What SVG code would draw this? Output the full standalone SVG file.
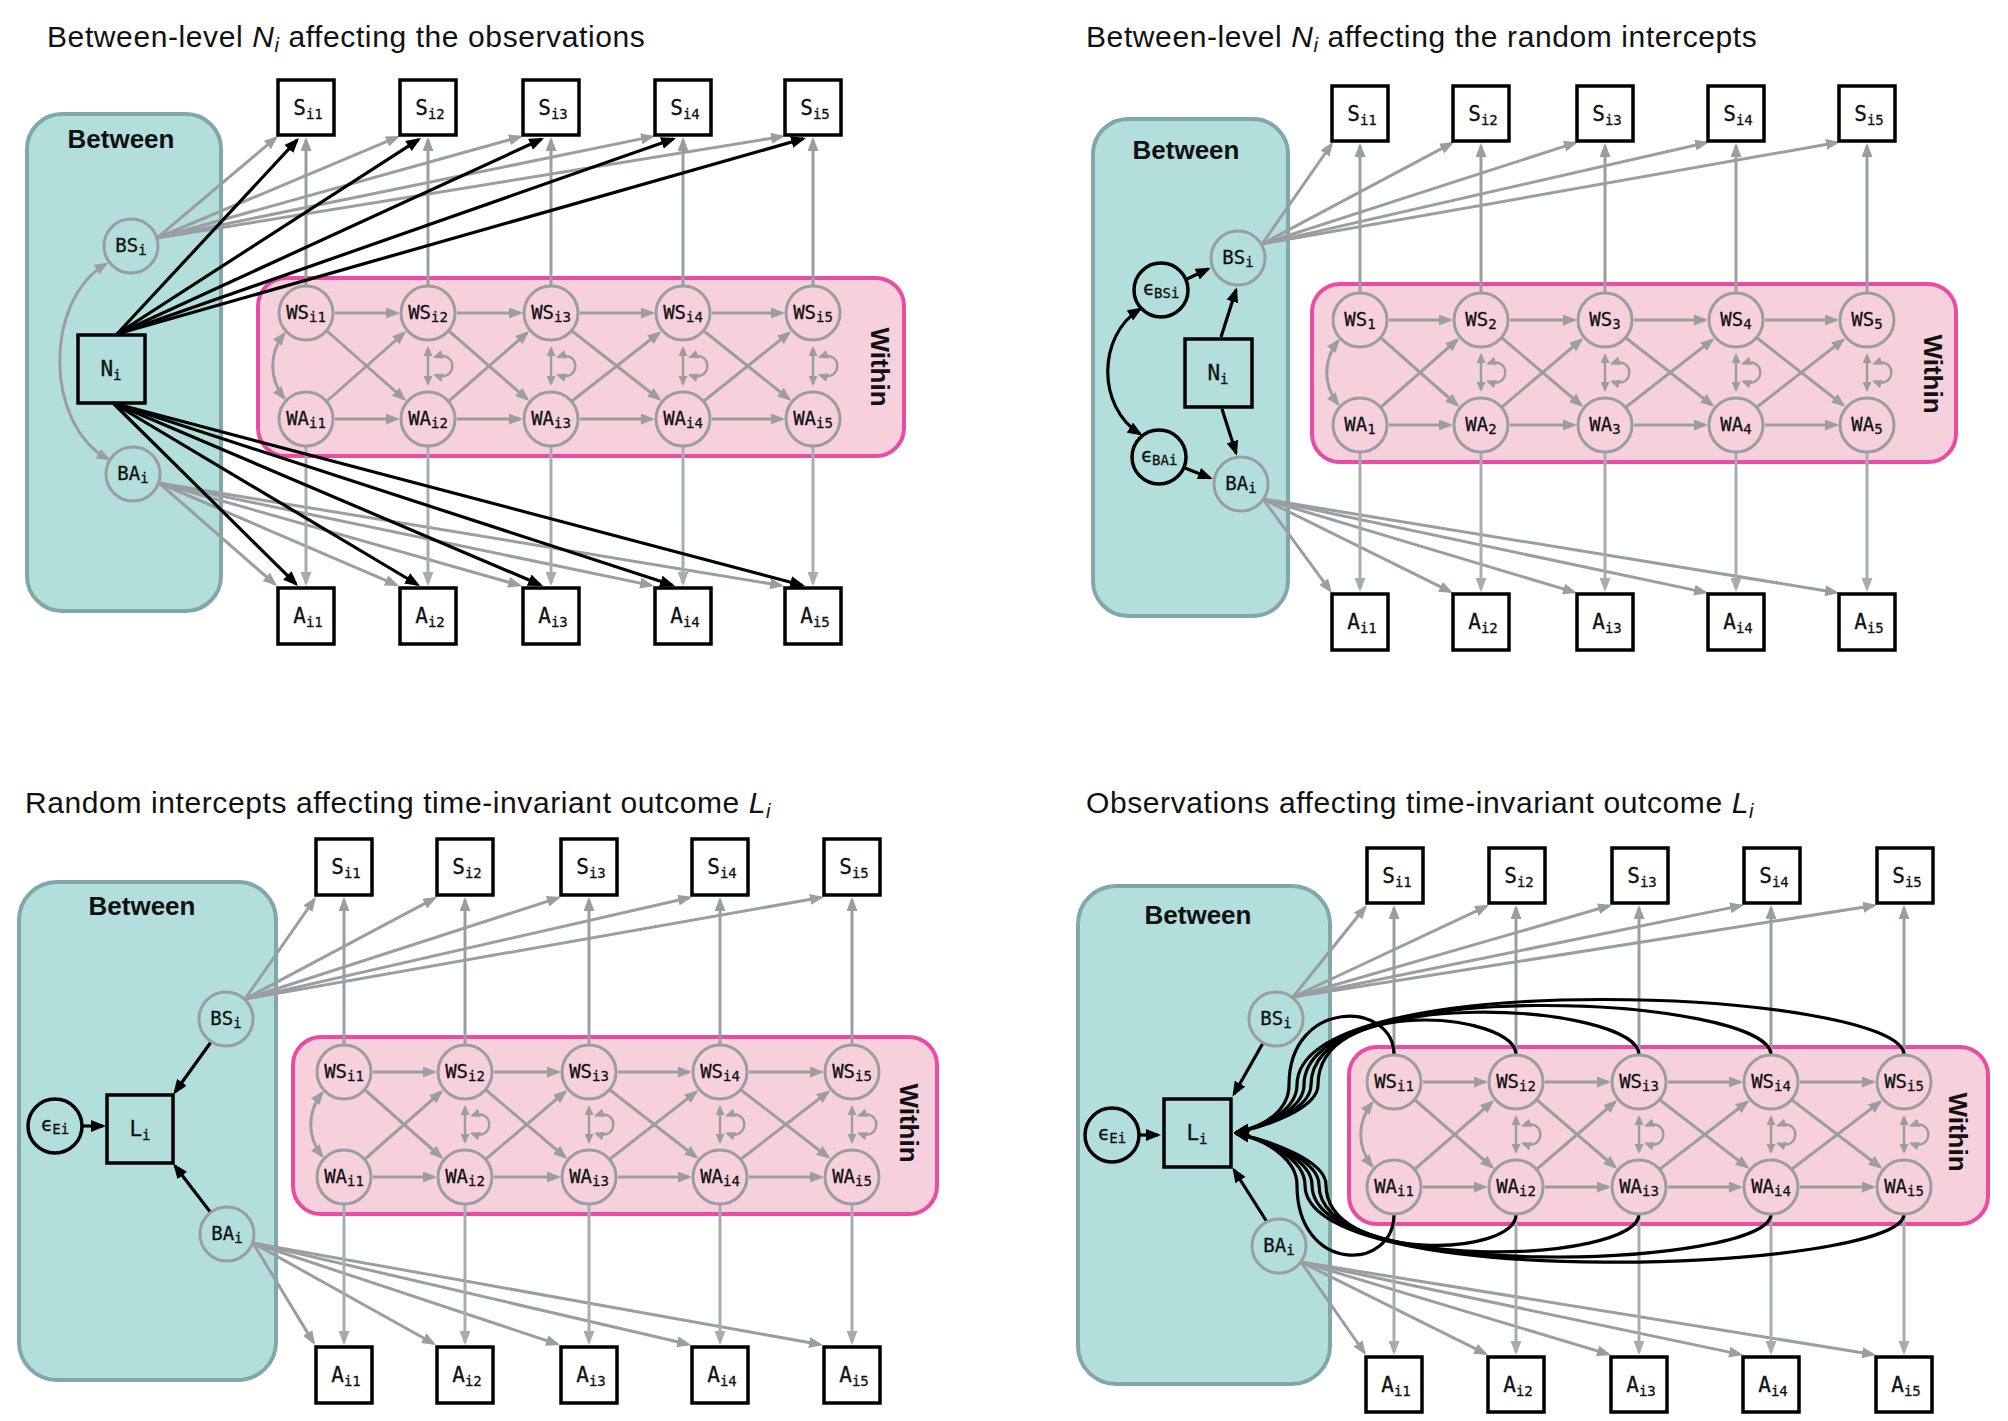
<svg xmlns="http://www.w3.org/2000/svg" width="2008" height="1421" viewBox="0 0 2008 1421">
<defs>
<marker id="ag" viewBox="0 0 14 11" refX="11" refY="5.5" markerWidth="14" markerHeight="11" markerUnits="userSpaceOnUse" orient="auto-start-reverse"><path d="M0,0L14,5.5L0,11z" fill="#9b9ea0"/></marker>
<marker id="agl" viewBox="0 0 14 11" refX="11" refY="5.5" markerWidth="14" markerHeight="11" markerUnits="userSpaceOnUse" orient="auto-start-reverse"><path d="M0,0L14,5.5L0,11z" fill="#a9acae"/></marker>
<marker id="ak" viewBox="0 0 15 12" refX="12" refY="6" markerWidth="15" markerHeight="12" markerUnits="userSpaceOnUse" orient="auto-start-reverse"><path d="M0,0L15,6L0,12z" fill="#000"/></marker>
<marker id="as" viewBox="0 0 10 9" refX="8" refY="4.5" markerWidth="10" markerHeight="9" markerUnits="userSpaceOnUse" orient="auto-start-reverse"><path d="M0,0L10,4.5L0,9z" fill="#9b9ea0"/></marker>
</defs>
<style>
.g{fill:none;stroke:#9b9ea0;stroke-width:3;marker-end:url(#ag)}
.gl{fill:none;stroke:#a9acae;stroke-width:3;marker-end:url(#agl)}
.gd{fill:none;stroke:#9b9ea0;stroke-width:3;marker-start:url(#ag);marker-end:url(#ag)}
.sd{fill:none;stroke:#9b9ea0;stroke-width:2.5;marker-start:url(#as);marker-end:url(#as)}
.k{fill:none;stroke:#000;stroke-width:3.2;marker-end:url(#ak)}
.kd{fill:none;stroke:#000;stroke-width:3.2;marker-start:url(#ak);marker-end:url(#ak)}
.btw{fill:#b2dfdb;stroke:#80a9a6;stroke-width:4}
.wtn{fill:#f6d1dc;stroke:#ea4ba3;stroke-width:4}
.cg{fill:none;stroke:#9b9ea0;stroke-width:3}
.ck{fill:none;stroke:#000;stroke-width:3.5}
.bx{fill:#fff;stroke:#000;stroke-width:3.5}
.bn{fill:none;stroke:#000;stroke-width:3.5}
.t{font-family:"DejaVu Sans Mono",monospace;font-size:19px;fill:#111;text-anchor:middle;stroke:#111;stroke-width:0.3}
.tb{font-family:"DejaVu Sans Mono",monospace;font-size:21px;fill:#111;text-anchor:middle;stroke:#111;stroke-width:0.3}
.s{font-size:14px}
.ttl{font-family:"Liberation Sans",Arial,sans-serif;font-size:30px;letter-spacing:0.6px;fill:#111}
.hd{font-family:"Liberation Sans",Arial,sans-serif;font-size:26px;font-weight:bold;fill:#111;text-anchor:middle}
</style>
<rect width="2008" height="1421" fill="#fff"/>

<!-- Titles -->
<text class="ttl" x="47" y="47">Between-level <tspan font-style="italic">N</tspan><tspan font-style="italic" font-size="20" dy="5">i</tspan><tspan dy="-5"> affecting the observations</tspan></text>
<text class="ttl" x="1086" y="47">Between-level <tspan font-style="italic">N</tspan><tspan font-style="italic" font-size="20" dy="5">i</tspan><tspan dy="-5"> affecting the random intercepts</tspan></text>
<text class="ttl" x="25" y="813">Random intercepts affecting time-invariant outcome <tspan font-style="italic">L</tspan><tspan font-style="italic" font-size="20" dy="5">i</tspan></text>
<text class="ttl" x="1086" y="813">Observations affecting time-invariant outcome <tspan font-style="italic">L</tspan><tspan font-style="italic" font-size="20" dy="5">i</tspan></text>

<!-- Regions -->
<g id="p1-between"><rect class="btw" x="27" y="114" width="194" height="497" rx="35"/><text class="hd" x="121" y="148">Between</text></g>
<g id="p1-within"><rect class="wtn" x="258" y="278" width="646" height="178" rx="28"/><text class="hd" transform="translate(880,367) rotate(90)" dominant-baseline="central">Within</text></g>
<g id="p2-between"><rect class="btw" x="1093" y="119" width="195" height="497" rx="35"/><text class="hd" x="1186" y="159">Between</text></g>
<g id="p2-within"><rect class="wtn" x="1312" y="284" width="644" height="178" rx="28"/><text class="hd" transform="translate(1933,374) rotate(90)" dominant-baseline="central">Within</text></g>
<g id="p3-between"><rect class="btw" x="19" y="882" width="257" height="498" rx="38"/><text class="hd" x="142" y="915">Between</text></g>
<g id="p3-within"><rect class="wtn" x="293" y="1037" width="644" height="177" rx="28"/><text class="hd" transform="translate(909,1123) rotate(90)" dominant-baseline="central">Within</text></g>
<g id="p4-between"><rect class="btw" x="1078" y="886" width="252" height="498" rx="38"/><text class="hd" x="1198" y="924">Between</text></g>
<g id="p4-within"><rect class="wtn" x="1349" y="1047" width="639" height="177" rx="28"/><text class="hd" transform="translate(1958,1132) rotate(90)" dominant-baseline="central">Within</text></g>

<!-- Connectors -->
<g id="connectors">
<!-- Panel 1 -->
<path class="g" d="M157,238L275.7,137.9"/><path class="g" d="M157,238L397.2,137.2"/><path class="g" d="M157,238L520.1,136.8"/><path class="g" d="M157,238L652.1,136.6"/><path class="g" d="M157,238L782,136.5"/>
<path class="g" d="M159,483L274.7,584"/><path class="g" d="M159,483L396.2,584.8"/><path class="g" d="M159,483L519.1,585.2"/><path class="g" d="M159,483L651.1,585.4"/><path class="g" d="M159,483L781,585.5"/>
<path class="gd" d="M106,264C44,300 44,424 108,459"/>
<path class="g" d="M306,286L306,140"/><path class="g" d="M428,286L428,140"/><path class="g" d="M551,286L551,140"/><path class="g" d="M683,286L683,140"/><path class="g" d="M813,286L813,140"/>
<path class="gl" d="M306,446L306,583"/><path class="gl" d="M428,446L428,583"/><path class="gl" d="M551,446L551,583"/><path class="gl" d="M683,446L683,583"/><path class="gl" d="M813,446L813,583"/>
<path class="g" d="M335,313L397,313"/><path class="g" d="M457,313L520,313"/><path class="g" d="M580,313L652,313"/><path class="g" d="M712,313L782,313"/>
<path class="g" d="M335,419L397,419"/><path class="g" d="M457,419L520,419"/><path class="g" d="M580,419L652,419"/><path class="g" d="M712,419L782,419"/>
<path class="g" d="M327,331L404,399"/><path class="g" d="M449,331L527,399"/><path class="g" d="M572,331L659,399"/><path class="g" d="M704,331L789,399"/>
<path class="g" d="M327,401L404,333"/><path class="g" d="M449,401L527,333"/><path class="g" d="M572,401L659,333"/><path class="g" d="M704,401L789,333"/>
<path class="gd" d="M284,334C269,353 269,379 284,398"/>
<path class="sd" d="M428,348L428,384"/><path class="sd" d="M435,357C458,349 458,383 435,375"/>
<path class="sd" d="M551,348L551,384"/><path class="sd" d="M558,357C581,349 581,383 558,375"/>
<path class="sd" d="M683,348L683,384"/><path class="sd" d="M690,357C713,349 713,383 690,375"/>
<path class="sd" d="M813,348L813,384"/><path class="sd" d="M820,357C843,349 843,383 820,375"/>
<path class="k" d="M117,334L297,140.2"/><path class="k" d="M117,334L418.5,139.6"/><path class="k" d="M117,334L541.3,139.3"/><path class="k" d="M117,334L673.2,139"/><path class="k" d="M117,334L803.1,138.8"/>
<path class="k" d="M113,403L295.9,583.9"/><path class="k" d="M113,403L417.4,584.5"/><path class="k" d="M113,403L540.2,584.8"/><path class="k" d="M113,403L672.1,585.1"/><path class="k" d="M113,403L802.1,585.2"/>

<!-- Panel 2 -->
<path class="g" d="M1262,244L1331.3,144.5"/><path class="g" d="M1262,244L1451.4,143.4"/><path class="g" d="M1262,244L1575.1,142.9"/><path class="g" d="M1262,244L1706.1,142.7"/><path class="g" d="M1262,244L1837,142.5"/>
<path class="g" d="M1263,499L1330.2,590.6"/><path class="g" d="M1263,499L1450.3,591.7"/><path class="g" d="M1263,499L1574.1,592.1"/><path class="g" d="M1263,499L1705.1,592.4"/><path class="g" d="M1263,499L1836,592.5"/>
<path class="k" d="M1221,337L1236,290"/><path class="k" d="M1222,409L1236,453"/>
<path class="k" d="M1187,279L1208,269"/><path class="k" d="M1185,468L1210,478"/>
<path class="kd" d="M1140,309C1097,336 1097,407 1140,434"/>
<path class="g" d="M1360,293L1360,146"/><path class="g" d="M1481,293L1481,146"/><path class="g" d="M1605,293L1605,146"/><path class="g" d="M1736,293L1736,146"/><path class="g" d="M1867,293L1867,146"/>
<path class="gl" d="M1360,452L1360,589"/><path class="gl" d="M1481,452L1481,589"/><path class="gl" d="M1605,452L1605,589"/><path class="gl" d="M1736,452L1736,589"/><path class="gl" d="M1867,452L1867,589"/>
<path class="g" d="M1389,320L1450,320"/><path class="g" d="M1510,320L1574,320"/><path class="g" d="M1634,320L1705,320"/><path class="g" d="M1765,320L1836,320"/>
<path class="g" d="M1389,425L1450,425"/><path class="g" d="M1510,425L1574,425"/><path class="g" d="M1634,425L1705,425"/><path class="g" d="M1765,425L1836,425"/>
<path class="g" d="M1381,338L1457,405"/><path class="g" d="M1502,338L1581,405"/><path class="g" d="M1626,338L1712,405"/><path class="g" d="M1757,338L1843,405"/>
<path class="g" d="M1381,407L1457,340"/><path class="g" d="M1502,407L1581,340"/><path class="g" d="M1626,407L1712,340"/><path class="g" d="M1757,407L1843,340"/>
<path class="gd" d="M1338,341C1323,360 1323,385 1338,404"/>
<path class="sd" d="M1481,355L1481,390"/><path class="sd" d="M1488,363.5C1511,355.5 1511,389.5 1488,381.5"/>
<path class="sd" d="M1605,355L1605,390"/><path class="sd" d="M1612,363.5C1635,355.5 1635,389.5 1612,381.5"/>
<path class="sd" d="M1736,355L1736,390"/><path class="sd" d="M1743,363.5C1766,355.5 1766,389.5 1743,381.5"/>
<path class="sd" d="M1867,355L1867,390"/><path class="sd" d="M1874,363.5C1897,355.5 1897,389.5 1874,381.5"/>

<!-- Panel 3 -->
<path class="g" d="M245,999L314.3,899.5"/><path class="g" d="M245,999L434.4,898.4"/><path class="g" d="M245,999L558.1,897.9"/><path class="g" d="M245,999L689.1,897.7"/><path class="g" d="M245,999L821,897.5"/>
<path class="g" d="M253,1243L313.4,1342.4"/><path class="g" d="M253,1243L433.4,1343.5"/><path class="g" d="M253,1243L557.2,1344.1"/><path class="g" d="M253,1243L688.1,1344.3"/><path class="g" d="M253,1243L820,1344.5"/>
<path class="k" d="M211,1042L175,1092"/><path class="k" d="M211,1213L175,1166"/><path class="k" d="M82,1126L103,1126"/>
<path class="g" d="M344,1045L344,900"/><path class="g" d="M465,1045L465,900"/><path class="g" d="M589,1045L589,900"/><path class="g" d="M720,1045L720,900"/><path class="g" d="M852,1045L852,900"/>
<path class="gl" d="M344,1204L344,1342"/><path class="gl" d="M465,1204L465,1342"/><path class="gl" d="M589,1204L589,1342"/><path class="gl" d="M720,1204L720,1342"/><path class="gl" d="M852,1204L852,1342"/>
<path class="g" d="M373,1072L434,1072"/><path class="g" d="M494,1072L558,1072"/><path class="g" d="M618,1072L689,1072"/><path class="g" d="M749,1072L821,1072"/>
<path class="g" d="M373,1177L434,1177"/><path class="g" d="M494,1177L558,1177"/><path class="g" d="M618,1177L689,1177"/><path class="g" d="M749,1177L821,1177"/>
<path class="g" d="M365,1090L441,1157"/><path class="g" d="M486,1090L565,1157"/><path class="g" d="M610,1090L696,1157"/><path class="g" d="M741,1090L828,1157"/>
<path class="g" d="M365,1159L441,1092"/><path class="g" d="M486,1159L565,1092"/><path class="g" d="M610,1159L696,1092"/><path class="g" d="M741,1159L828,1092"/>
<path class="gd" d="M322,1093C307,1112 307,1137 322,1156"/>
<path class="sd" d="M465,1107L465,1142"/><path class="sd" d="M472,1115.5C495,1107.5 495,1141.5 472,1133.5"/>
<path class="sd" d="M589,1107L589,1142"/><path class="sd" d="M596,1115.5C619,1107.5 619,1141.5 596,1133.5"/>
<path class="sd" d="M720,1107L720,1142"/><path class="sd" d="M727,1115.5C750,1107.5 750,1141.5 727,1133.5"/>
<path class="sd" d="M852,1107L852,1142"/><path class="sd" d="M859,1115.5C882,1107.5 882,1141.5 859,1133.5"/>

<!-- Panel 4 -->
<path class="g" d="M1293,997L1365.1,907.3"/><path class="g" d="M1293,997L1486.3,906.3"/><path class="g" d="M1293,997L1609.1,905.8"/><path class="g" d="M1293,997L1741.1,905.6"/><path class="g" d="M1293,997L1874,905.5"/>
<path class="g" d="M1301,1262L1364.3,1352.5"/><path class="g" d="M1301,1262L1485.3,1353.7"/><path class="g" d="M1301,1262L1608.1,1354.1"/><path class="g" d="M1301,1262L1740.1,1354.4"/><path class="g" d="M1301,1262L1873,1354.5"/>
<path class="k" d="M1263,1043L1234,1094"/><path class="k" d="M1267,1222L1234,1170"/><path class="k" d="M1139,1135L1158,1135"/>
<path class="g" d="M1394,1055L1394,908"/><path class="g" d="M1516,1055L1516,908"/><path class="g" d="M1639,1055L1639,908"/><path class="g" d="M1771,1055L1771,908"/><path class="g" d="M1904,1055L1904,908"/>
<path class="gl" d="M1394,1214L1394,1352"/><path class="gl" d="M1516,1214L1516,1352"/><path class="gl" d="M1639,1214L1639,1352"/><path class="gl" d="M1771,1214L1771,1352"/><path class="gl" d="M1904,1214L1904,1352"/>
<path class="g" d="M1423,1082L1485,1082"/><path class="g" d="M1545,1082L1608,1082"/><path class="g" d="M1668,1082L1740,1082"/><path class="g" d="M1800,1082L1873,1082"/>
<path class="g" d="M1423,1187L1485,1187"/><path class="g" d="M1545,1187L1608,1187"/><path class="g" d="M1668,1187L1740,1187"/><path class="g" d="M1800,1187L1873,1187"/>
<path class="g" d="M1415,1100L1492,1167"/><path class="g" d="M1537,1100L1615,1167"/><path class="g" d="M1660,1100L1747,1167"/><path class="g" d="M1792,1100L1880,1167"/>
<path class="g" d="M1415,1169L1492,1102"/><path class="g" d="M1537,1169L1615,1102"/><path class="g" d="M1660,1169L1747,1102"/><path class="g" d="M1792,1169L1880,1102"/>
<path class="gd" d="M1372,1103C1357,1122 1357,1147 1372,1166"/>
<path class="sd" d="M1516,1117L1516,1152"/><path class="sd" d="M1523,1125.5C1546,1117.5 1546,1151.5 1523,1143.5"/>
<path class="sd" d="M1639,1117L1639,1152"/><path class="sd" d="M1646,1125.5C1669,1117.5 1669,1151.5 1646,1143.5"/>
<path class="sd" d="M1771,1117L1771,1152"/><path class="sd" d="M1778,1125.5C1801,1117.5 1801,1151.5 1778,1143.5"/>
<path class="sd" d="M1904,1117L1904,1152"/><path class="sd" d="M1911,1125.5C1934,1117.5 1934,1151.5 1911,1143.5"/>
<path class="k" d="M1394,1055C1394,1000 1289,998 1289,1085C1289,1108 1268,1126 1237,1132"/>
<path class="k" d="M1516,1055C1516,1012 1318,995 1318,1085C1318,1108 1268,1126 1237,1132"/>
<path class="k" d="M1639,1055C1639,1003 1311,983 1311,1085C1311,1108 1268,1126 1237,1132"/>
<path class="k" d="M1771,1055C1771,996 1304,972 1304,1085C1304,1108 1268,1126 1237,1132"/>
<path class="k" d="M1904,1055C1904,990 1297,962 1297,1085C1297,1108 1268,1126 1237,1132"/>
<path class="k" d="M1394,1214C1394,1272 1297,1274 1297,1185C1297,1160 1268,1140 1237,1134"/>
<path class="k" d="M1516,1214C1516,1258 1326,1262 1326,1185C1326,1160 1268,1140 1237,1134"/>
<path class="k" d="M1639,1214C1639,1264 1319,1274 1319,1185C1319,1160 1268,1140 1237,1134"/>
<path class="k" d="M1771,1214C1771,1268 1312,1284 1312,1185C1312,1160 1268,1140 1237,1134"/>
<path class="k" d="M1904,1214C1904,1272 1305,1294 1305,1185C1305,1160 1268,1140 1237,1134"/>
</g>

<!-- Panel 1 nodes -->
<g id="p1-BS"><circle class="cg" cx="131" cy="246" r="27"/><text class="t" x="131" y="252">BS<tspan class="s" dy="3">i</tspan></text></g>
<g id="p1-BA"><circle class="cg" cx="133" cy="474" r="27"/><text class="t" x="133" y="480">BA<tspan class="s" dy="3">i</tspan></text></g>
<g id="p1-N"><rect class="bn" x="78" y="335" width="67" height="68"/><text class="tb" x="111" y="376">N<tspan class="s" dy="4">i</tspan></text></g>
<g id="p1-S1"><rect class="bx" x="278" y="80" width="56" height="55"/><text class="tb" x="308" y="115">S<tspan class="s" dy="4">i1</tspan></text></g>
<g id="p1-S2"><rect class="bx" x="400" y="80" width="56" height="55"/><text class="tb" x="430" y="115">S<tspan class="s" dy="4">i2</tspan></text></g>
<g id="p1-S3"><rect class="bx" x="523" y="80" width="56" height="55"/><text class="tb" x="553" y="115">S<tspan class="s" dy="4">i3</tspan></text></g>
<g id="p1-S4"><rect class="bx" x="655" y="80" width="56" height="55"/><text class="tb" x="685" y="115">S<tspan class="s" dy="4">i4</tspan></text></g>
<g id="p1-S5"><rect class="bx" x="785" y="80" width="56" height="55"/><text class="tb" x="815" y="115">S<tspan class="s" dy="4">i5</tspan></text></g>
<g id="p1-A1"><rect class="bx" x="278" y="588" width="56" height="56"/><text class="tb" x="308" y="623">A<tspan class="s" dy="4">i1</tspan></text></g>
<g id="p1-A2"><rect class="bx" x="400" y="588" width="56" height="56"/><text class="tb" x="430" y="623">A<tspan class="s" dy="4">i2</tspan></text></g>
<g id="p1-A3"><rect class="bx" x="523" y="588" width="56" height="56"/><text class="tb" x="553" y="623">A<tspan class="s" dy="4">i3</tspan></text></g>
<g id="p1-A4"><rect class="bx" x="655" y="588" width="56" height="56"/><text class="tb" x="685" y="623">A<tspan class="s" dy="4">i4</tspan></text></g>
<g id="p1-A5"><rect class="bx" x="785" y="588" width="56" height="56"/><text class="tb" x="815" y="623">A<tspan class="s" dy="4">i5</tspan></text></g>
<g id="p1-WS1"><circle class="cg" cx="306" cy="313" r="27"/><text class="t" x="306" y="319">WS<tspan class="s" dy="3">i1</tspan></text></g>
<g id="p1-WS2"><circle class="cg" cx="428" cy="313" r="27"/><text class="t" x="428" y="319">WS<tspan class="s" dy="3">i2</tspan></text></g>
<g id="p1-WS3"><circle class="cg" cx="551" cy="313" r="27"/><text class="t" x="551" y="319">WS<tspan class="s" dy="3">i3</tspan></text></g>
<g id="p1-WS4"><circle class="cg" cx="683" cy="313" r="27"/><text class="t" x="683" y="319">WS<tspan class="s" dy="3">i4</tspan></text></g>
<g id="p1-WS5"><circle class="cg" cx="813" cy="313" r="27"/><text class="t" x="813" y="319">WS<tspan class="s" dy="3">i5</tspan></text></g>
<g id="p1-WA1"><circle class="cg" cx="306" cy="419" r="27"/><text class="t" x="306" y="425">WA<tspan class="s" dy="3">i1</tspan></text></g>
<g id="p1-WA2"><circle class="cg" cx="428" cy="419" r="27"/><text class="t" x="428" y="425">WA<tspan class="s" dy="3">i2</tspan></text></g>
<g id="p1-WA3"><circle class="cg" cx="551" cy="419" r="27"/><text class="t" x="551" y="425">WA<tspan class="s" dy="3">i3</tspan></text></g>
<g id="p1-WA4"><circle class="cg" cx="683" cy="419" r="27"/><text class="t" x="683" y="425">WA<tspan class="s" dy="3">i4</tspan></text></g>
<g id="p1-WA5"><circle class="cg" cx="813" cy="419" r="27"/><text class="t" x="813" y="425">WA<tspan class="s" dy="3">i5</tspan></text></g>

<!-- Panel 2 nodes -->
<g id="p2-BS"><circle class="cg" cx="1238" cy="258" r="27"/><text class="t" x="1238" y="264">BS<tspan class="s" dy="3">i</tspan></text></g>
<g id="p2-BA"><circle class="cg" cx="1241" cy="484" r="27"/><text class="t" x="1241" y="490">BA<tspan class="s" dy="3">i</tspan></text></g>
<g id="p2-eBS"><circle class="ck" cx="1161" cy="290" r="27"/><text class="t" x="1161" y="295">ϵ<tspan class="s" dy="3">BSi</tspan></text></g>
<g id="p2-eBA"><circle class="ck" cx="1159" cy="457" r="27"/><text class="t" x="1159" y="462">ϵ<tspan class="s" dy="3">BAi</tspan></text></g>
<g id="p2-N"><rect class="bn" x="1185" y="339" width="67" height="68"/><text class="tb" x="1218" y="380">N<tspan class="s" dy="4">i</tspan></text></g>
<g id="p2-S1"><rect class="bx" x="1332" y="86" width="56" height="55"/><text class="tb" x="1362" y="121">S<tspan class="s" dy="4">i1</tspan></text></g>
<g id="p2-S2"><rect class="bx" x="1453" y="86" width="56" height="55"/><text class="tb" x="1483" y="121">S<tspan class="s" dy="4">i2</tspan></text></g>
<g id="p2-S3"><rect class="bx" x="1577" y="86" width="56" height="55"/><text class="tb" x="1607" y="121">S<tspan class="s" dy="4">i3</tspan></text></g>
<g id="p2-S4"><rect class="bx" x="1708" y="86" width="56" height="55"/><text class="tb" x="1738" y="121">S<tspan class="s" dy="4">i4</tspan></text></g>
<g id="p2-S5"><rect class="bx" x="1839" y="86" width="56" height="55"/><text class="tb" x="1869" y="121">S<tspan class="s" dy="4">i5</tspan></text></g>
<g id="p2-A1"><rect class="bx" x="1332" y="594" width="56" height="56"/><text class="tb" x="1362" y="629">A<tspan class="s" dy="4">i1</tspan></text></g>
<g id="p2-A2"><rect class="bx" x="1453" y="594" width="56" height="56"/><text class="tb" x="1483" y="629">A<tspan class="s" dy="4">i2</tspan></text></g>
<g id="p2-A3"><rect class="bx" x="1577" y="594" width="56" height="56"/><text class="tb" x="1607" y="629">A<tspan class="s" dy="4">i3</tspan></text></g>
<g id="p2-A4"><rect class="bx" x="1708" y="594" width="56" height="56"/><text class="tb" x="1738" y="629">A<tspan class="s" dy="4">i4</tspan></text></g>
<g id="p2-A5"><rect class="bx" x="1839" y="594" width="56" height="56"/><text class="tb" x="1869" y="629">A<tspan class="s" dy="4">i5</tspan></text></g>
<g id="p2-WS1"><circle class="cg" cx="1360" cy="320" r="27"/><text class="t" x="1360" y="326">WS<tspan class="s" dy="3">1</tspan></text></g>
<g id="p2-WS2"><circle class="cg" cx="1481" cy="320" r="27"/><text class="t" x="1481" y="326">WS<tspan class="s" dy="3">2</tspan></text></g>
<g id="p2-WS3"><circle class="cg" cx="1605" cy="320" r="27"/><text class="t" x="1605" y="326">WS<tspan class="s" dy="3">3</tspan></text></g>
<g id="p2-WS4"><circle class="cg" cx="1736" cy="320" r="27"/><text class="t" x="1736" y="326">WS<tspan class="s" dy="3">4</tspan></text></g>
<g id="p2-WS5"><circle class="cg" cx="1867" cy="320" r="27"/><text class="t" x="1867" y="326">WS<tspan class="s" dy="3">5</tspan></text></g>
<g id="p2-WA1"><circle class="cg" cx="1360" cy="425" r="27"/><text class="t" x="1360" y="431">WA<tspan class="s" dy="3">1</tspan></text></g>
<g id="p2-WA2"><circle class="cg" cx="1481" cy="425" r="27"/><text class="t" x="1481" y="431">WA<tspan class="s" dy="3">2</tspan></text></g>
<g id="p2-WA3"><circle class="cg" cx="1605" cy="425" r="27"/><text class="t" x="1605" y="431">WA<tspan class="s" dy="3">3</tspan></text></g>
<g id="p2-WA4"><circle class="cg" cx="1736" cy="425" r="27"/><text class="t" x="1736" y="431">WA<tspan class="s" dy="3">4</tspan></text></g>
<g id="p2-WA5"><circle class="cg" cx="1867" cy="425" r="27"/><text class="t" x="1867" y="431">WA<tspan class="s" dy="3">5</tspan></text></g>

<!-- Panel 3 nodes -->
<g id="p3-BS"><circle class="cg" cx="226" cy="1019" r="27"/><text class="t" x="226" y="1025">BS<tspan class="s" dy="3">i</tspan></text></g>
<g id="p3-BA"><circle class="cg" cx="227" cy="1234" r="27"/><text class="t" x="227" y="1240">BA<tspan class="s" dy="3">i</tspan></text></g>
<g id="p3-eE"><circle class="ck" cx="55" cy="1126" r="27"/><text class="t" x="55" y="1131">ϵ<tspan class="s" dy="3">Ei</tspan></text></g>
<g id="p3-L"><rect class="bn" x="107" y="1095" width="66" height="68"/><text class="tb" x="140" y="1136">L<tspan class="s" dy="4">i</tspan></text></g>
<g id="p3-S1"><rect class="bx" x="316" y="839" width="56" height="56"/><text class="tb" x="346" y="874">S<tspan class="s" dy="4">i1</tspan></text></g>
<g id="p3-S2"><rect class="bx" x="437" y="839" width="56" height="56"/><text class="tb" x="467" y="874">S<tspan class="s" dy="4">i2</tspan></text></g>
<g id="p3-S3"><rect class="bx" x="561" y="839" width="56" height="56"/><text class="tb" x="591" y="874">S<tspan class="s" dy="4">i3</tspan></text></g>
<g id="p3-S4"><rect class="bx" x="692" y="839" width="56" height="56"/><text class="tb" x="722" y="874">S<tspan class="s" dy="4">i4</tspan></text></g>
<g id="p3-S5"><rect class="bx" x="824" y="839" width="56" height="56"/><text class="tb" x="854" y="874">S<tspan class="s" dy="4">i5</tspan></text></g>
<g id="p3-A1"><rect class="bx" x="316" y="1347" width="56" height="56"/><text class="tb" x="346" y="1382">A<tspan class="s" dy="4">i1</tspan></text></g>
<g id="p3-A2"><rect class="bx" x="437" y="1347" width="56" height="56"/><text class="tb" x="467" y="1382">A<tspan class="s" dy="4">i2</tspan></text></g>
<g id="p3-A3"><rect class="bx" x="561" y="1347" width="56" height="56"/><text class="tb" x="591" y="1382">A<tspan class="s" dy="4">i3</tspan></text></g>
<g id="p3-A4"><rect class="bx" x="692" y="1347" width="56" height="56"/><text class="tb" x="722" y="1382">A<tspan class="s" dy="4">i4</tspan></text></g>
<g id="p3-A5"><rect class="bx" x="824" y="1347" width="56" height="56"/><text class="tb" x="854" y="1382">A<tspan class="s" dy="4">i5</tspan></text></g>
<g id="p3-WS1"><circle class="cg" cx="344" cy="1072" r="27"/><text class="t" x="344" y="1078">WS<tspan class="s" dy="3">i1</tspan></text></g>
<g id="p3-WS2"><circle class="cg" cx="465" cy="1072" r="27"/><text class="t" x="465" y="1078">WS<tspan class="s" dy="3">i2</tspan></text></g>
<g id="p3-WS3"><circle class="cg" cx="589" cy="1072" r="27"/><text class="t" x="589" y="1078">WS<tspan class="s" dy="3">i3</tspan></text></g>
<g id="p3-WS4"><circle class="cg" cx="720" cy="1072" r="27"/><text class="t" x="720" y="1078">WS<tspan class="s" dy="3">i4</tspan></text></g>
<g id="p3-WS5"><circle class="cg" cx="852" cy="1072" r="27"/><text class="t" x="852" y="1078">WS<tspan class="s" dy="3">i5</tspan></text></g>
<g id="p3-WA1"><circle class="cg" cx="344" cy="1177" r="27"/><text class="t" x="344" y="1183">WA<tspan class="s" dy="3">i1</tspan></text></g>
<g id="p3-WA2"><circle class="cg" cx="465" cy="1177" r="27"/><text class="t" x="465" y="1183">WA<tspan class="s" dy="3">i2</tspan></text></g>
<g id="p3-WA3"><circle class="cg" cx="589" cy="1177" r="27"/><text class="t" x="589" y="1183">WA<tspan class="s" dy="3">i3</tspan></text></g>
<g id="p3-WA4"><circle class="cg" cx="720" cy="1177" r="27"/><text class="t" x="720" y="1183">WA<tspan class="s" dy="3">i4</tspan></text></g>
<g id="p3-WA5"><circle class="cg" cx="852" cy="1177" r="27"/><text class="t" x="852" y="1183">WA<tspan class="s" dy="3">i5</tspan></text></g>

<!-- Panel 4 nodes -->
<g id="p4-BS"><circle class="cg" cx="1276" cy="1019" r="27"/><text class="t" x="1276" y="1025">BS<tspan class="s" dy="3">i</tspan></text></g>
<g id="p4-BA"><circle class="cg" cx="1279" cy="1246" r="27"/><text class="t" x="1279" y="1252">BA<tspan class="s" dy="3">i</tspan></text></g>
<g id="p4-eE"><circle class="ck" cx="1112" cy="1135" r="27"/><text class="t" x="1112" y="1140">ϵ<tspan class="s" dy="3">Ei</tspan></text></g>
<g id="p4-L"><rect class="bn" x="1164" y="1099" width="67" height="68"/><text class="tb" x="1197" y="1140">L<tspan class="s" dy="4">i</tspan></text></g>
<g id="p4-S1"><rect class="bx" x="1367" y="848" width="56" height="55"/><text class="tb" x="1397" y="883">S<tspan class="s" dy="4">i1</tspan></text></g>
<g id="p4-S2"><rect class="bx" x="1489" y="848" width="56" height="55"/><text class="tb" x="1519" y="883">S<tspan class="s" dy="4">i2</tspan></text></g>
<g id="p4-S3"><rect class="bx" x="1612" y="848" width="56" height="55"/><text class="tb" x="1642" y="883">S<tspan class="s" dy="4">i3</tspan></text></g>
<g id="p4-S4"><rect class="bx" x="1744" y="848" width="56" height="55"/><text class="tb" x="1774" y="883">S<tspan class="s" dy="4">i4</tspan></text></g>
<g id="p4-S5"><rect class="bx" x="1877" y="848" width="56" height="55"/><text class="tb" x="1907" y="883">S<tspan class="s" dy="4">i5</tspan></text></g>
<g id="p4-A1"><rect class="bx" x="1366" y="1357" width="56" height="55"/><text class="tb" x="1396" y="1392">A<tspan class="s" dy="4">i1</tspan></text></g>
<g id="p4-A2"><rect class="bx" x="1488" y="1357" width="56" height="55"/><text class="tb" x="1518" y="1392">A<tspan class="s" dy="4">i2</tspan></text></g>
<g id="p4-A3"><rect class="bx" x="1611" y="1357" width="56" height="55"/><text class="tb" x="1641" y="1392">A<tspan class="s" dy="4">i3</tspan></text></g>
<g id="p4-A4"><rect class="bx" x="1743" y="1357" width="56" height="55"/><text class="tb" x="1773" y="1392">A<tspan class="s" dy="4">i4</tspan></text></g>
<g id="p4-A5"><rect class="bx" x="1876" y="1357" width="56" height="55"/><text class="tb" x="1906" y="1392">A<tspan class="s" dy="4">i5</tspan></text></g>
<g id="p4-WS1"><circle class="cg" cx="1394" cy="1082" r="27"/><text class="t" x="1394" y="1088">WS<tspan class="s" dy="3">i1</tspan></text></g>
<g id="p4-WS2"><circle class="cg" cx="1516" cy="1082" r="27"/><text class="t" x="1516" y="1088">WS<tspan class="s" dy="3">i2</tspan></text></g>
<g id="p4-WS3"><circle class="cg" cx="1639" cy="1082" r="27"/><text class="t" x="1639" y="1088">WS<tspan class="s" dy="3">i3</tspan></text></g>
<g id="p4-WS4"><circle class="cg" cx="1771" cy="1082" r="27"/><text class="t" x="1771" y="1088">WS<tspan class="s" dy="3">i4</tspan></text></g>
<g id="p4-WS5"><circle class="cg" cx="1904" cy="1082" r="27"/><text class="t" x="1904" y="1088">WS<tspan class="s" dy="3">i5</tspan></text></g>
<g id="p4-WA1"><circle class="cg" cx="1394" cy="1187" r="27"/><text class="t" x="1394" y="1193">WA<tspan class="s" dy="3">i1</tspan></text></g>
<g id="p4-WA2"><circle class="cg" cx="1516" cy="1187" r="27"/><text class="t" x="1516" y="1193">WA<tspan class="s" dy="3">i2</tspan></text></g>
<g id="p4-WA3"><circle class="cg" cx="1639" cy="1187" r="27"/><text class="t" x="1639" y="1193">WA<tspan class="s" dy="3">i3</tspan></text></g>
<g id="p4-WA4"><circle class="cg" cx="1771" cy="1187" r="27"/><text class="t" x="1771" y="1193">WA<tspan class="s" dy="3">i4</tspan></text></g>
<g id="p4-WA5"><circle class="cg" cx="1904" cy="1187" r="27"/><text class="t" x="1904" y="1193">WA<tspan class="s" dy="3">i5</tspan></text></g>
</svg>
